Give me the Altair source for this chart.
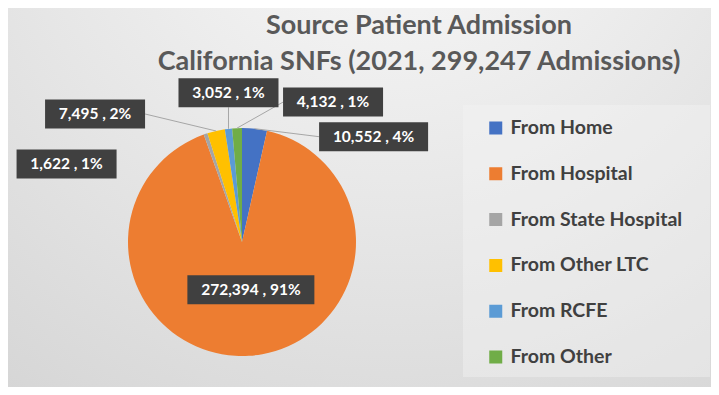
import altair as alt
import pandas as pd

# ---- data ----
categories = ["From Home", "From Hospital", "From State Hospital",
              "From Other LTC", "From RCFE", "From Other"]
admissions = [10552, 272394, 1622, 7495, 3052, 4132]
percent_labels = ["4%", "91%", "1%", "2%", "1%", "1%"]
title_lines = ["Source Patient Admission",
               "California SNFs (2021, 299,247 Admissions)"]

# ---- style / layout ----
colors = ["#4472C4", "#ED7D31", "#A5A5A5", "#FFC000", "#5B9BD5", "#70AD47"]
# offset of each data-label box centre from the slice's mid-angle point on the rim
label_dx = [119, 2, -139, -121, 0, 96]
label_dy = [8, -66, 30, -17, -36, -26]
has_leader = [1, 0, 0, 1, 1, 1]

W, H = 703, 379
CX, CY, R = 234, 234, 114
FONT = "Lato"

df = pd.DataFrame({
    "category": categories,
    "value": admissions,
    "pct": percent_labels,
    "order": list(range(len(categories))),
    "ldx": label_dx,
    "ldy": label_dy,
    "leader": has_leader,
})

base = alt.Chart(df).transform_joinaggregate(
    total="sum(value)"
).transform_window(
    cum="sum(value)", sort=[alt.SortField("order")], frame=[None, 0]
).transform_calculate(
    mid="(datum.cum - datum.value/2)/datum.total*2*PI",
).transform_calculate(
    ax=f"{CX} + {R}*sin(datum.mid)",
    ay=f"{CY} - {R}*cos(datum.mid)",
    label="format(datum.value, ',') + ' , ' + datum.pct",
).transform_calculate(
    lx="datum.ax + datum.ldx",
    ly="datum.ay + datum.ldy",
    bw="length(datum.label)*9 + 10",
    bh="29",
).transform_calculate(
    bx1="datum.lx - datum.bw/2",
    bx2="datum.lx + datum.bw/2",
    by1="datum.ly - datum.bh/2",
    by2="datum.ly + datum.bh/2",
).transform_calculate(
    cx="datum.ax < datum.bx1 ? datum.bx1 : (datum.ax > datum.bx2 ? datum.bx2 : datum.lx)",
    cy="(datum.ax < datum.bx1 || datum.ax > datum.bx2) ? datum.ly : (datum.ay > datum.ly ? datum.by2 : datum.by1)",
)

def px(field):
    return alt.X(field, type="quantitative", scale=None, axis=None)

def py(field):
    return alt.Y(field, type="quantitative", scale=None, axis=None)

one = alt.Data(values=[{}])

background = alt.Chart(one).mark_rect(
    fill={
        "gradient": "radial",
        "x1": 0.55, "y1": 0.0, "r1": 0.0,
        "x2": 0.55, "y2": 0.0, "r2": 1.0,
        "stops": [
            {"offset": 0.0, "color": "#fbfbfb"},
            {"offset": 0.55, "color": "#e6e6e6"},
            {"offset": 1.0, "color": "#d4d4d4"},
        ],
    }
).encode(x=alt.value(0), x2=alt.value(W), y=alt.value(0), y2=alt.value(H))

legend_box = alt.Chart(one).mark_rect(
    fill="#f4f4f4", opacity=0.4
).encode(x=alt.value(455), x2=alt.value(702), y=alt.value(97), y2=alt.value(369))

pie = alt.Chart(df).mark_arc(outerRadius=R).encode(
    theta=alt.Theta("value:Q", stack=True),
    order=alt.Order("order:Q"),
    color=alt.Color(
        "category:N",
        scale=alt.Scale(domain=categories, range=colors),
        legend=alt.Legend(
            orient="none", legendX=478, legendY=110, title=None,
            symbolType="square", symbolSize=169, symbolStrokeWidth=0,
            labelFont=FONT, labelFontSize=19.5, labelFontWeight="bold",
            labelColor="#404040", labelOffset=5, clipHeight=20,
            rowPadding=25.8, padding=0, labelLimit=300,
        ),
    ),
    x=alt.value(CX),
    y=alt.value(CY),
)

leaders = base.transform_filter("datum.leader == 1").mark_rule(
    color="#a6a6a6", strokeWidth=1
).encode(x=px("ax"), y=py("ay"), x2="cx:Q", y2="cy:Q")

boxes = base.mark_rect(fill="#404040").encode(
    x=px("bx1"), x2="bx2:Q", y=py("by1"), y2="by2:Q"
)

texts = base.mark_text(
    font=FONT, fontSize=15.5, fontWeight="bold", color="white",
    align="center", baseline="middle"
).encode(x=px("lx"), y=py("ly"), text="label:N")

titles = []
for t, yb in zip(title_lines, [26, 62]):
    titles.append(
        alt.Chart(one).mark_text(
            text=t, font=FONT, fontSize=27, fontWeight="bold", color="#595959",
            align="center", baseline="alphabetic"
        ).encode(x=alt.value(411), y=alt.value(yb))
    )

chart = alt.layer(
    background, legend_box, pie, leaders, boxes, texts, *titles
).properties(
    width=W, height=H, autosize=alt.AutoSizeParams(type="none"), padding=0
).configure_view(stroke="#bdbdbd", strokeWidth=1)

chart.save("out.html", embed_options={"renderer": "svg", "actions": False})
